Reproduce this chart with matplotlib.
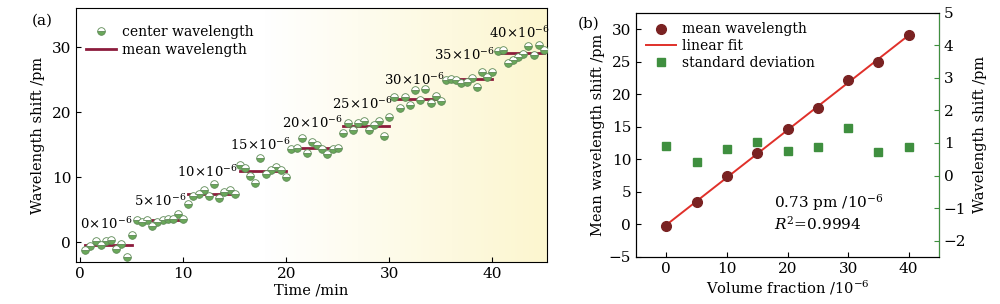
import numpy as np
import matplotlib
matplotlib.use("Agg")
from matplotlib import pyplot as plt
from matplotlib.colors import LinearSegmentedColormap

plt.rcParams['font.family'] = ['DejaVu Serif']
plt.rcParams['mathtext.fontset'] = 'dejavuserif'
plt.rcParams['font.size'] = 10

# panel (a): center wavelength every 0.5 min, 10 points per concentration step
fractions = [0, 5, 10, 15, 20, 25, 30, 35, 40]
center_wl = [
    [-1.1, -0.5, 0.2, -0.35, 0.3, 0.4, -1.0, -0.2, -2.2, 1.1],
    [3.4, 3.1, 3.4, 2.6, 3.1, 3.5, 3.6, 3.6, 4.3, 3.6],
    [5.95, 7.1, 7.5, 8.1, 7.1, 9.0, 6.9, 7.8, 8.0, 7.4],
    [11.9, 11.5, 10.2, 9.2, 12.9, 10.5, 11.2, 11.6, 11.1, 10.05],
    [14.3, 14.5, 16.1, 13.7, 15.4, 15.0, 14.3, 13.6, 14.3, 14.5],
    [16.8, 18.4, 17.3, 18.4, 18.6, 17.3, 18.1, 18.6, 16.35, 19.3],
    [22.4, 20.7, 22.4, 21.1, 23.4, 21.8, 23.5, 21.4, 22.5, 21.7],
    [24.9, 25.1, 24.9, 24.4, 24.6, 25.3, 23.8, 26.1, 25.4, 26.2],
    [29.4, 29.5, 27.6, 28.0, 28.4, 29.0, 30.2, 28.8, 30.3, 29.5],
]
label_x = [2.5, 7.8, 12.4, 17.5, 22.5, 27.4, 32.4, 37.3, 42.6]
label_y = [2.9, 6.3, 10.8, 14.9, 18.4, 21.3, 25.0, 28.8, 32.1]

# panel (b)
mean_wl = [-0.3, 3.4, 7.5, 11.0, 14.6, 17.9, 22.1, 25.0, 29.1]
std_dev = [0.91, 0.43, 0.80, 1.03, 0.74, 0.88, 1.45, 0.71, 0.87]

maroon = "#8c1c3c"

fig = plt.figure(figsize=(10, 3.04), dpi=100)

# ---- (a)
ax = fig.add_axes([0.076, 0.138, 0.471, 0.836])
xlim = (-0.4, 45.3)
ylim = (-3.0, 36.0)
bg = LinearSegmentedColormap.from_list("bg", [(0, "#ffffff"), (0.4, "#ffffff"), (1, "#fcf6cf")])
ax.imshow(np.linspace(0, 1, 256)[None, :], cmap=bg, aspect="auto",
          extent=[xlim[0], xlim[1], ylim[0], ylim[1]], zorder=0)

for i, vals in enumerate(center_wl):
    t0 = fractions[i]
    times = t0 + 0.5 * np.arange(1, len(vals) + 1)
    ax.plot(times, vals, "o", ms=5.5, mfc="#6aa85a", mfcalt="white", fillstyle="bottom",
            mec="#5d8a55", mew=0.6, zorder=3,
            label="center wavelength" if i == 0 else None)
    ax.plot([times[0], times[-1]], [np.mean(vals)] * 2, color=maroon, lw=2, zorder=2,
            label="mean wavelength" if i == 0 else None)
    ax.text(label_x[i], label_y[i], r"$%d\!\times\!10^{-6}$" % fractions[i], ha="center",
            va="center", fontsize=9.5)

ax.set_xlim(*xlim)
ax.set_ylim(*ylim)
ax.set_xticks([0, 10, 20, 30, 40])
ax.set_yticks([0, 10, 20, 30])
ax.tick_params(direction="in", labelsize=11)
ax.set_xlabel("Time /min", fontsize=10.5, labelpad=2)
ax.set_ylabel("Wavelength shift /pm", fontsize=10.5, labelpad=5)
ax.legend(loc="upper left", bbox_to_anchor=(0.0, 0.97), frameon=False, fontsize=10,
          handlelength=2.2, handletextpad=0.4, labelspacing=0.25, borderaxespad=0.3)
fig.text(0.032, 0.92, "(a)", fontsize=11)

# ---- (b)
bx = fig.add_axes([0.636, 0.155, 0.303, 0.803])
bx.plot(fractions, mean_wl, "o", color="#7a2222", ms=7, zorder=4, label="mean wavelength")
slope, intercept = np.polyfit(fractions, mean_wl, 1)
xf = np.array([fractions[0], fractions[-1]])
bx.plot(xf, slope * xf + intercept, color="#e0302a", lw=1.4, zorder=3, label="linear fit")
bx.set_xlim(-5, 45)
bx.set_ylim(-5, 32.5)
bx.set_xticks([0, 10, 20, 30, 40])
bx.set_yticks([-5, 0, 5, 10, 15, 20, 25, 30])
bx.tick_params(direction="in", labelsize=11)
bx.set_xlabel(r"Volume fraction /$10^{-6}$", fontsize=10.5, labelpad=2)
bx.set_ylabel("Mean wavelength shift /pm", fontsize=10.5, labelpad=3)
bx.text(17.8, 3.4, r"0.73 pm /$10^{-6}$", fontsize=11, va="center")
bx.text(17.8, 0.15, r"$R^2$=0.9994", fontsize=11, va="center")

rx = bx.twinx()
rx.plot(fractions, std_dev, "s", color="#3f8f3f", ms=6, label="standard deviation")
rx.set_ylim(-2.5, 5.0)
rx.set_yticks([-2, -1, 0, 1, 2, 3, 4, 5])
rx.spines["right"].set_color("#3f8f3f")
rx.tick_params(direction="in", labelsize=11, colors="#3f8f3f", labelcolor="black")
rx.set_ylabel("Wavelength shift /pm", fontsize=10.5, labelpad=5)

h1, l1 = bx.get_legend_handles_labels()
h2, l2 = rx.get_legend_handles_labels()
rx.legend(h1 + h2, l1 + l2, loc="upper left", frameon=False, fontsize=10,
          handlelength=2.2, handletextpad=0.4, labelspacing=0.2, borderaxespad=0.3)
fig.text(0.578, 0.91, "(b)", fontsize=11)

fig.savefig("out.png", dpi=100)
